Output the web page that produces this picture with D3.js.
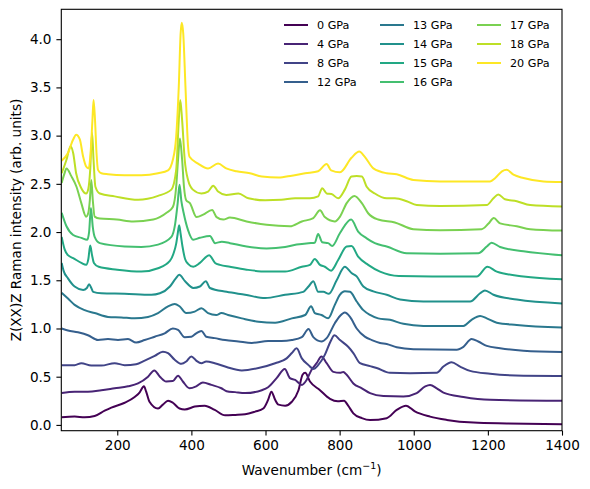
<!DOCTYPE html>
<html>
<head>
<meta charset="utf-8">
<script src="https://cdn.jsdelivr.net/npm/d3@7"></script>
<style>
  body { margin: 0; background: #fff; }
  text { font-family: "DejaVu Sans", sans-serif; fill: #000; }
</style>
</head>
<body>
<div id="corpo"></div>
<script>
// pressures (legend labels)
var pressures = ["0 GPa", "4 GPa", "8 GPa", "12 GPa", "13 GPa", "14 GPa", "15 GPa", "16 GPa", "17 GPa", "18 GPa", "20 GPa"];

// spectra: [wavenumber, intensity incl. vertical offset]
var s0 = [[50,0.08],[85,0.086],[112,0.08],[139,0.093],[166,0.148],[184,0.18],[220,0.23],[247,0.29],[260,0.335],[272,0.40],[278,0.345],[287,0.24],[310,0.17],[323,0.21],[337,0.25],[350,0.23],[368,0.17],[382,0.16],[409,0.19],[436,0.20],[463,0.155],[491,0.10],[518,0.104],[545,0.11],[572,0.138],[594,0.17],[607,0.26],[616,0.345],[626,0.26],[635,0.21],[653,0.20],[671,0.24],[689,0.36],[700,0.52],[707,0.54],[720,0.45],[747,0.36],[774,0.27],[795,0.245],[812,0.25],[823,0.20],[837,0.12],[860,0.07],[882,0.05],[927,0.07],[954,0.155],[979,0.20],[1003,0.14],[1044,0.086],[1089,0.052],[1161,0.024],[1251,0.015],[1400,0.007]];
var s4 = [[50,0.33],[85,0.345],[121,0.345],[157,0.36],[193,0.38],[229,0.40],[256,0.43],[283,0.50],[300,0.565],[315,0.50],[332,0.45],[350,0.455],[364,0.51],[377,0.45],[395,0.38],[413,0.40],[431,0.44],[454,0.415],[481,0.38],[495,0.35],[518,0.34],[545,0.33],[590,0.36],[607,0.39],[630,0.485],[652,0.58],[666,0.485],[680,0.467],[698,0.415],[711,0.467],[724,0.57],[738,0.64],[751,0.71],[765,0.64],[783,0.55],[801,0.54],[810,0.55],[819,0.52],[837,0.43],[860,0.38],[882,0.33],[918,0.30],[972,0.295],[1008,0.33],[1031,0.40],[1044,0.415],[1062,0.38],[1080,0.335],[1134,0.29],[1206,0.26],[1400,0.25]];
var s8 = [[50,0.62],[85,0.62],[103,0.64],[130,0.615],[157,0.615],[193,0.64],[220,0.62],[251,0.63],[274,0.667],[301,0.715],[323,0.76],[337,0.745],[355,0.675],[373,0.633],[386,0.657],[400,0.71],[413,0.667],[427,0.64],[440,0.657],[463,0.64],[495,0.60],[536,0.565],[581,0.59],[626,0.64],[657,0.69],[671,0.745],[684,0.795],[698,0.69],[716,0.62],[729,0.58],[742,0.62],[760,0.726],[776,0.87],[786,0.93],[801,0.88],[823,0.81],[837,0.745],[855,0.64],[882,0.61],[900,0.59],[936,0.54],[990,0.535],[1062,0.54],[1080,0.605],[1102,0.65],[1125,0.605],[1152,0.56],[1206,0.53],[1296,0.51],[1400,0.508]];
var s12 = [[50,1.00],[67,0.98],[94,0.96],[121,0.93],[148,0.88],[175,0.89],[202,0.88],[229,0.89],[251,0.855],[274,0.88],[301,0.915],[328,0.95],[350,1.00],[364,0.985],[382,0.91],[400,0.915],[413,0.95],[427,0.975],[440,0.915],[463,0.90],[491,0.88],[527,0.865],[563,0.85],[607,0.87],[643,0.87],[671,0.88],[698,0.91],[716,0.995],[729,0.91],[751,0.865],[765,0.90],[787,1.055],[801,1.13],[814,1.165],[828,1.12],[846,1.00],[868,0.915],[887,0.88],[909,0.85],[927,0.84],[954,0.805],[999,0.785],[1116,0.78],[1134,0.81],[1156,0.89],[1174,0.865],[1197,0.82],[1233,0.795],[1296,0.77],[1400,0.757]];
var s13 = [[50,1.37],[67,1.31],[85,1.245],[112,1.19],[139,1.16],[175,1.12],[211,1.115],[247,1.105],[283,1.12],[310,1.16],[337,1.23],[355,1.255],[368,1.23],[386,1.16],[409,1.175],[427,1.21],[445,1.16],[467,1.14],[481,1.16],[499,1.14],[536,1.105],[581,1.07],[626,1.06],[671,1.105],[707,1.14],[723,1.23],[733,1.16],[751,1.14],[769,1.105],[787,1.245],[801,1.35],[814,1.385],[828,1.38],[846,1.28],[864,1.19],[882,1.14],[904,1.105],[936,1.09],[972,1.048],[1026,1.027],[1134,1.027],[1156,1.09],[1179,1.13],[1197,1.105],[1224,1.06],[1278,1.037],[1400,1.009]];
var s14 = [[50,1.68],[55,1.60],[67,1.52],[85,1.435],[108,1.40],[118,1.42],[124,1.46],[130,1.42],[135,1.38],[157,1.365],[220,1.36],[292,1.35],[315,1.365],[342,1.435],[358,1.52],[367,1.556],[383,1.49],[405,1.42],[423,1.435],[439,1.49],[450,1.42],[495,1.38],[545,1.35],[599,1.315],[653,1.35],[702,1.38],[716,1.435],[729,1.49],[742,1.38],[756,1.38],[771,1.36],[792,1.50],[814,1.64],[832,1.575],[846,1.54],[864,1.435],[891,1.385],[927,1.35],[963,1.30],[1026,1.28],[1152,1.28],[1179,1.365],[1192,1.395],[1215,1.35],[1278,1.30],[1400,1.26]];
var s15 = [[50,1.95],[58,1.82],[67,1.76],[81,1.73],[103,1.68],[116,1.66],[122,1.72],[127,1.86],[132,1.76],[137,1.68],[150,1.64],[200,1.61],[265,1.59],[310,1.625],[342,1.70],[352,1.78],[359,1.88],[363,1.98],[367,2.07],[371,1.98],[376,1.85],[383,1.72],[391,1.67],[405,1.64],[423,1.68],[448,1.76],[464,1.68],[477,1.66],[504,1.64],[549,1.61],[603,1.59],[653,1.59],[698,1.64],[720,1.66],[733,1.72],[747,1.66],[760,1.64],[777,1.60],[796,1.71],[819,1.85],[832,1.855],[850,1.745],[877,1.66],[909,1.59],[960,1.545],[1050,1.54],[1170,1.54],[1199,1.64],[1224,1.59],[1296,1.54],[1400,1.51]];
var s16 = [[50,2.20],[63,2.06],[81,1.97],[103,1.94],[119,1.92],[124,2.00],[129,2.25],[134,2.05],[139,1.95],[153,1.885],[220,1.85],[265,1.845],[310,1.87],[346,1.95],[356,2.08],[363,2.30],[368,2.49],[373,2.32],[379,2.20],[391,2.02],[405,1.92],[423,1.94],[450,1.96],[464,1.885],[482,1.90],[504,1.885],[549,1.85],[603,1.83],[653,1.845],[684,1.87],[716,1.885],[733,1.89],[742,1.98],[753,1.895],[769,1.885],[780,1.855],[801,1.99],[831,2.13],[850,2.005],[873,1.935],[895,1.885],[927,1.85],[981,1.78],[1071,1.775],[1174,1.78],[1197,1.85],[1210,1.89],[1233,1.845],[1296,1.80],[1400,1.76]];
var s17 = [[50,2.51],[57,2.60],[63,2.66],[76,2.58],[90,2.47],[103,2.30],[116,2.16],[122,2.20],[126,2.33],[130,2.54],[134,2.33],[139,2.16],[153,2.14],[199,2.13],[243,2.11],[297,2.13],[333,2.20],[350,2.26],[359,2.47],[364,2.75],[369,2.97],[375,2.75],[380,2.47],[386,2.33],[396,2.30],[414,2.155],[432,2.18],[456,2.23],[468,2.155],[486,2.13],[504,2.15],[549,2.11],[603,2.075],[666,2.06],[698,2.11],[729,2.145],[747,2.225],[760,2.155],[787,2.11],[801,2.16],[819,2.30],[840,2.375],[860,2.30],[877,2.195],[904,2.13],[949,2.10],[999,2.03],[1071,2.02],[1183,2.03],[1201,2.085],[1216,2.145],[1233,2.09],[1278,2.06],[1314,2.03],[1400,2.015]];
var s18 = [[50,2.61],[63,2.75],[74,2.89],[81,2.82],[89,2.61],[103,2.455],[116,2.40],[122,2.45],[127,2.645],[132,3.03],[136,2.75],[141,2.47],[153,2.40],[193,2.37],[256,2.335],[310,2.375],[346,2.44],[359,2.645],[366,3.16],[370,3.37],[375,3.16],[382,2.75],[391,2.54],[404,2.44],[427,2.40],[445,2.42],[459,2.48],[472,2.42],[494,2.385],[527,2.40],[554,2.35],[599,2.33],[643,2.335],[680,2.35],[720,2.35],[742,2.37],[753,2.455],[765,2.40],[778,2.395],[796,2.35],[814,2.44],[832,2.575],[846,2.58],[860,2.575],[873,2.47],[895,2.40],[927,2.35],[949,2.35],[981,2.32],[1008,2.28],[1071,2.27],[1197,2.28],[1215,2.35],[1228,2.39],[1246,2.34],[1278,2.32],[1314,2.28],[1400,2.265]];
var s20 = [[50,2.74],[67,2.82],[81,2.96],[89,3.01],[99,2.96],[108,2.78],[116,2.68],[123,2.66],[128,2.82],[133,3.16],[136,3.37],[140,3.16],[144,2.82],[148,2.645],[157,2.61],[175,2.60],[220,2.59],[265,2.59],[310,2.61],[337,2.64],[350,2.75],[359,2.99],[366,3.51],[371,4.06],[374,4.17],[378,4.06],[384,3.51],[391,2.89],[395,2.78],[418,2.71],[445,2.66],[472,2.71],[494,2.66],[522,2.63],[558,2.61],[590,2.575],[635,2.565],[671,2.585],[707,2.61],[742,2.63],[765,2.705],[777,2.64],[801,2.62],[832,2.77],[853,2.835],[868,2.78],[891,2.66],[927,2.61],[954,2.60],[999,2.54],[1071,2.525],[1206,2.525],[1220,2.56],[1238,2.63],[1251,2.645],[1269,2.595],[1296,2.56],[1350,2.525],[1400,2.52]];

var spectra = [s0, s4, s8, s12, s13, s14, s15, s16, s17, s18, s20];

var xTicks = [200, 400, 600, 800, 1000, 1200, 1400];
var yTicks = [0, 0.5, 1, 1.5, 2, 2.5, 3, 3.5, 4];

var width = 590, height = 489;
// plot box (avoid the name "top", it is window.top)
var mLeft = 61.3, mRight = 562, mTop = 9.3, mBottom = 430.7;
var fontSize = "13.6px";

var svg = d3.select("#corpo").append("svg")
    .attr("width", width)
    .attr("height", height);

var x = d3.scaleLinear().domain([49, 1400]).range([mLeft, mRight]);
var y = d3.scaleLinear().domain([-0.06, 4.31]).range([mBottom, mTop]);

function color(i){
    return d3.interpolateViridis(i / (spectra.length - 1));
}

var line = d3.line()
    .x(function(d){ return x(d[0]); })
    .y(function(d){ return y(d[1]); })
    .curve(d3.curveMonotoneX);

svg.append("clipPath").attr("id", "clip")
    .append("rect")
    .attr("x", mLeft).attr("y", mTop)
    .attr("width", mRight - mLeft).attr("height", mBottom - mTop);

svg.append("g")
    .attr("clip-path", "url(#clip)")
    .selectAll("path")
    .data(spectra)
    .enter().append("path")
    .attr("d", line)
    .style("fill", "none")
    .style("stroke", function(d, i){ return color(i); })
    .style("stroke-width", 2)
    .style("stroke-linejoin", "round");

// axes
var xAxis = svg.append("g")
    .attr("transform", "translate(0," + mBottom + ")")
    .call(d3.axisBottom(x).tickValues(xTicks).tickSize(4.9).tickPadding(4.5).tickFormat(d3.format("d")));
var yAxis = svg.append("g")
    .attr("transform", "translate(" + mLeft + ",0)")
    .call(d3.axisLeft(y).tickValues(yTicks).tickSize(4.9).tickPadding(4.9).tickFormat(d3.format(".1f")));

[xAxis, yAxis].forEach(function(a){
    a.select(".domain").remove();
    a.selectAll("line").style("stroke", "#000").style("stroke-width", 1.1);
    a.selectAll("text").style("font-size", fontSize).style("font-family", "DejaVu Sans");
});

// frame
svg.append("rect")
    .attr("x", mLeft).attr("y", mTop)
    .attr("width", mRight - mLeft).attr("height", mBottom - mTop)
    .style("fill", "none").style("stroke", "#000").style("stroke-width", 1.1);

// labels
var xl = svg.append("text")
    .attr("x", (mLeft + mRight) / 2).attr("y", 474.5)
    .attr("text-anchor", "middle")
    .style("font-size", fontSize);
xl.append("tspan").text("Wavenumber (cm");
xl.append("tspan").text("\u22121").attr("dy", -5.5).style("font-size", "9.5px");
xl.append("tspan").text(")").attr("dy", 5.5);

svg.append("text")
    .attr("transform", "translate(20.5," + ((mTop + mBottom) / 2) + ") rotate(-90)")
    .attr("text-anchor", "middle")
    .style("font-size", fontSize)
    .text("Z(XX)Z Raman intensity (arb. units)");

// legend, 3 columns, no frame
var colX = [284, 380, 477];
var rowY = [25, 44, 63, 82];
var leg = svg.selectAll(".leg")
    .data(pressures)
    .enter().append("g")
    .attr("class", "leg")
    .attr("transform", function(d, i){
        return "translate(" + colX[Math.floor(i / 4)] + "," + rowY[i % 4] + ")";
    });
leg.append("line")
    .attr("x1", 0).attr("x2", 24)
    .style("stroke", function(d, i){ return color(i); })
    .style("stroke-width", 2);
leg.append("text")
    .attr("x", 33).attr("dy", "0.36em")
    .style("font-size", "11.2px")
    .text(function(d){ return d; });
</script>
</body>
</html>
